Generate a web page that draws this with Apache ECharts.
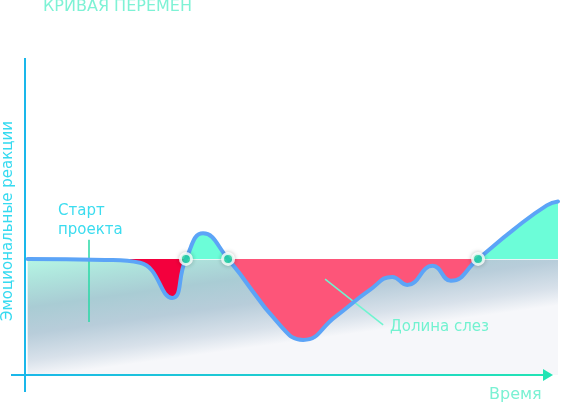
<!DOCTYPE html>
<html>
<head>
<meta charset="utf-8">
<script src="https://cdn.jsdelivr.net/npm/echarts@6/dist/echarts.min.js"></script>
<style>
html, body { margin: 0; padding: 0; background: #fff; }
#chart { width: 564px; height: 405px; }
</style>
</head>
<body>
<div id="chart"></div>
<script>
const titleText = 'КРИВАЯ ПЕРЕМЕН'
const yAxisName = 'Эмоциональные реакции'
const xAxisName = 'Время'
const startLabel = 'Старт\nпроекта'
const valleyLabel = 'Долина слез'

// time runs 0..100, emotion 0 is the starting level
const times = [0.5, 15.0, 21.6, 27.6, 30.2, 33.4, 38.1, 47.8, 52.2,
	58.2, 64.7, 68.9, 71.7, 76.5, 79.9, 85.0, 91.6, 97.9, 100]
const emotions = [0, -0.9, -3.4, -33.6, 0, 22.0, 0, -56.8, -69.8,
	-49.9, -26.7, -15.5, -22.4, -6.0, -18.9, 0, 25.0, 46.1, 49.5]

// note leader lines, data units
const startLine = [[12.0, 16.4], [12.0, -54.3]]
const valleyLine = [[56.3, -17.5], [67.2, -56.8]]

const curve = times.map((t, i) => [t, emotions[i]])
const crossings = curve.filter((p, i) => i > 0 && p[1] === 0)
const bounds = crossings.map(p => p[0])

const MINT = '#6cfdd8'
const RED = '#f3003d'
const PINK = '#fd5579'
const SMOOTH = 0.5

const chart = echarts.init(document.getElementById('chart'))

chart.setOption({
	animation: false,
	grid: { left: 25, right: 6, top: 58, bottom: 30 },
	xAxis: { type: 'value', min: 0, max: 100, show: false },
	yAxis: { type: 'value', min: -100, max: 173, show: false },
	visualMap: {
		show: false,
		type: 'piecewise',
		seriesIndex: 1,
		dimension: 0,
		pieces: [
			{ lt: bounds[0], color: RED },
			{ gte: bounds[0], lt: bounds[1], color: MINT },
			{ gte: bounds[1], lt: bounds[2], color: PINK },
			{ gte: bounds[2], color: MINT },
		],
	},
	series: [
		{
			name: 'fill',
			type: 'line',
			data: curve,
			smooth: SMOOTH,
			showSymbol: false,
			silent: true,
			z: 1,
			lineStyle: { width: 0, opacity: 0 },
			areaStyle: {
				origin: 'start',
				opacity: 1,
				color: new echarts.graphic.LinearGradient(0, 0, 0.045, 1, [
					{ offset: 0, color: '#bdfbea' },
					{ offset: 0.33, color: '#b5f5e4' },
					{ offset: 0.45, color: '#aee3dc' },
					{ offset: 0.6, color: '#a9ccd4' },
					{ offset: 0.75, color: '#b8cdda' },
					{ offset: 0.9, color: '#d8e1ea' },
					{ offset: 1, color: '#f6f7fa' },
				]),
			},
			markLine: {
				z: 2,
				silent: true,
				symbol: 'none',
				label: { show: false },
				lineStyle: { color: '#ffffff', width: 1.5, type: 'solid' },
				data: [{ yAxis: 0 }],
			},
		},
		{
			name: 'zones',
			type: 'line',
			data: curve,
			smooth: SMOOTH,
			showSymbol: false,
			silent: true,
			z: 3,
			lineStyle: { width: 0, opacity: 0 },
			areaStyle: { opacity: 1 },
			markLine: {
				z: 4,
				silent: true,
				symbol: 'none',
				label: { show: false },
				lineStyle: { width: 1.5, type: 'solid' },
				data: [
					[{ coord: startLine[0], lineStyle: { color: '#28d9a6' } }, { coord: startLine[1] }],
					[{ coord: valleyLine[0], lineStyle: { color: '#6ff5d0' } }, { coord: valleyLine[1] }],
				],
			},
		},
		{
			name: 'curve',
			type: 'line',
			data: curve,
			smooth: SMOOTH,
			showSymbol: false,
			silent: true,
			z: 5,
			lineStyle: { color: '#5ca4f7', width: 4, cap: 'round', join: 'round' },
		},
		{
			name: 'turns',
			type: 'scatter',
			data: crossings,
			symbolSize: 11,
			silent: true,
			z: 6,
			itemStyle: {
				color: '#25eab3',
				borderColor: '#ffffff',
				borderWidth: 3,
				shadowBlur: 5,
				shadowColor: 'rgba(0, 0, 0, 0.25)',
			},
		},
	],
	graphic: [
		{
			type: 'line',
			silent: true,
			z: 10,
			shape: { x1: 25, y1: 58, x2: 25, y2: 392 },
			style: { stroke: '#1ab7ea', lineWidth: 2 },
		},
		{
			type: 'line',
			silent: true,
			z: 10,
			shape: { x1: 11, y1: 375, x2: 546, y2: 375 },
			style: {
				lineWidth: 2,
				stroke: new echarts.graphic.LinearGradient(11, 0, 550, 0, [
					{ offset: 0, color: '#1ab7ea' },
					{ offset: 1, color: '#22e4b4' },
				], true),
			},
		},
		{
			type: 'polygon',
			silent: true,
			z: 10,
			shape: { points: [[543, 369], [553, 375], [543, 381]] },
			style: { fill: '#22e4b4' },
		},
		{
			type: 'text',
			silent: true,
			z: 10,
			x: 43, y: 7,
			style: {
				text: titleText, fill: '#7ef2d5', font: '16px "DejaVu Sans"',
				verticalAlign: 'middle',
			},
		},
		{
			type: 'text',
			silent: true,
			z: 10,
			x: 8, y: 221,
			rotation: Math.PI / 2,
			style: {
				text: yAxisName, fill: '#36daf0', font: '15px "DejaVu Sans"',
				align: 'center', verticalAlign: 'middle',
			},
		},
		{
			type: 'text',
			silent: true,
			z: 10,
			x: 58, y: 201,
			style: {
				text: startLabel, fill: '#3bdcef', font: '15px "DejaVu Sans"',
				lineHeight: 19.5, verticalAlign: 'top',
			},
		},
		{
			type: 'text',
			silent: true,
			z: 10,
			x: 390, y: 327,
			style: {
				text: valleyLabel, fill: '#72f2d0', font: '15px "DejaVu Sans"',
				verticalAlign: 'middle',
			},
		},
		{
			type: 'text',
			silent: true,
			z: 10,
			x: 489, y: 395,
			style: {
				text: xAxisName, fill: '#7af1d3', font: '16px "DejaVu Sans"',
				verticalAlign: 'middle',
			},
		},
	],
})

window.addEventListener('resize', () => {
	chart.resize()
})
</script>
</body>
</html>
